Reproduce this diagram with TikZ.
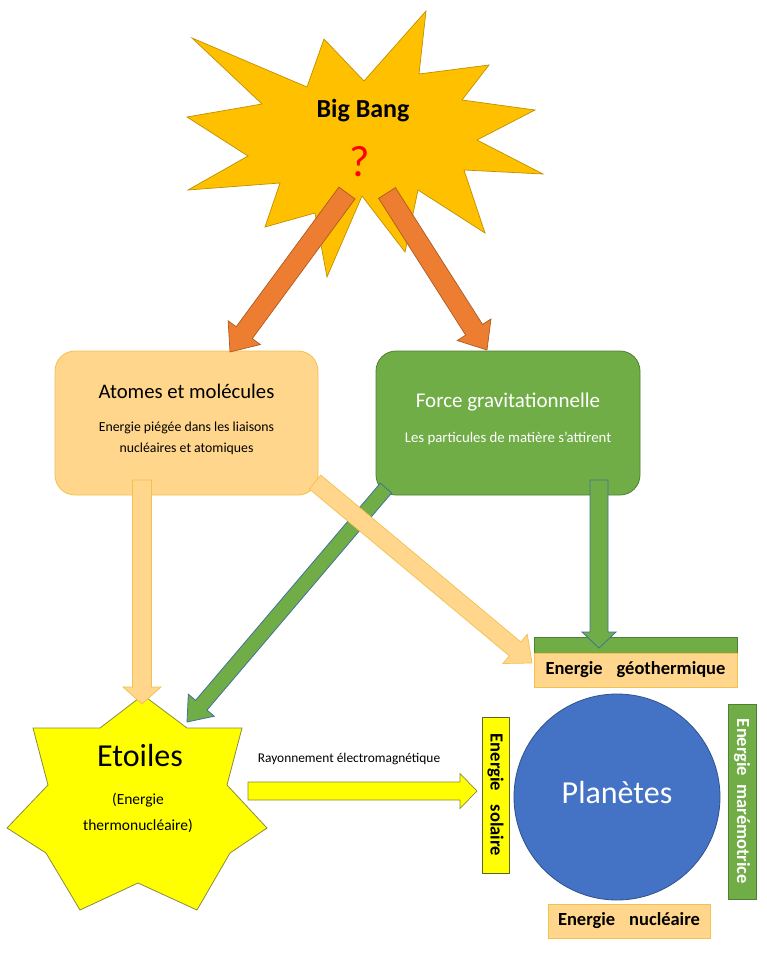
\documentclass[tikz,border=0pt]{standalone}
\usepackage{fontspec}
\setmainfont{Carlito}
\usetikzlibrary{calc}
\definecolor{bbfill}{HTML}{FFC000}
\definecolor{bbline}{HTML}{C09000}
\definecolor{orarrow}{HTML}{ED7D31}
\definecolor{orline}{HTML}{AE5A21}
\definecolor{lorange}{HTML}{FFD68C}
\definecolor{lorline}{HTML}{F2C14E}
\definecolor{grn}{HTML}{70AD47}
\definecolor{grnline}{HTML}{507E32}
\definecolor{bluline}{HTML}{41719C}
\definecolor{planet}{HTML}{4472C4}
\definecolor{planetline}{HTML}{2F528F}
\definecolor{yel}{HTML}{FFFF00}
\definecolor{yelline}{HTML}{8A8A40}
\definecolor{qred}{HTML}{FF0000}
\newcommand{\blockarrow}[6]{%
  \path let \p1=(#2), \p2=(#3) in
    \pgfextra{\pgfmathsetmacro{\baang}{atan2(\y2-\y1,\x2-\x1)}%
      \pgfmathsetmacro{\balen}{veclen(\x2-\x1,\y2-\y1)}%
      \global\let\baang\baang\global\let\balen\balen};
  \filldraw[#1, shift={(#2)}, rotate=\baang] (0,-#4) -- ({\balen-#6},-#4) -- ({\balen-#6},-#5) -- (\balen,0) -- ({\balen-#6},#5) -- ({\balen-#6},#4) -- (0,#4) -- cycle;
}
\tikzset{
  bbshape/.style={fill=bbfill, draw=bbline, line width=0.7pt},
  orarr/.style={fill=orarrow, draw=orline, line width=0.7pt},
  lorarr/.style={fill=lorange, draw=lorline, line width=0.7pt},
  grnarr/.style={fill=grn, draw=bluline, line width=0.8pt},
  yelarr/.style={fill=yel, draw=yelline, line width=0.7pt},
  roundbox/.style={rectangle, rounded corners=20pt, minimum width=264pt, minimum height=144pt, line width=0.8pt, inner sep=0pt},
  ebox/.style={rectangle, line width=0.8pt, inner sep=0pt},
  etext/.style={font=\fontsize{18.5}{21}\selectfont\bfseries},
}
\begin{document}
\begin{tikzpicture}[x=1pt, y=-1pt]
\useasboundingbox[fill=white] (0,0) rectangle (767,978);
% Big Bang explosion
\filldraw[bbshape] (192,38) -- (307,87) -- (324,39) -- (364,81) -- (426,11) -- (419,74) -- (489,65) -- (462,100) -- (535,110) -- (477,140) -- (543,174) -- (464,170) -- (485,233) -- (418,190) -- (405,252) -- (362,196) -- (327,277) -- (315,213) -- (265,227) -- (280,183) -- (188,190) -- (248,156) -- (187,117) -- (262,104) -- cycle;
\node[font=\fontsize{26}{29}\selectfont\bfseries] (bigbang) at (363,111) {Big Bang};
\node[font=\fontsize{44}{46}\selectfont, text=qred] (qmark) at (360,162) {?};
% boxes
\node[roundbox, fill=lorange, draw=lorline, minimum width=263pt] (atomes) at (186.5,423) {};
\node[roundbox, fill=grn, draw=grnline] (force) at (508,423) {};
% orange arrows
\coordinate (bbL) at (347,193);
\coordinate (bbR) at (387,193);
\coordinate (atomesIn) at (230,352);
\coordinate (forceIn) at (487,350);
\blockarrow{orarr}{bbL}{atomesIn}{10}{20}{24}
\blockarrow{orarr}{bbR}{forceIn}{10}{20}{24}
\node[font=\fontsize{20.7}{24}\selectfont] (atomesT) at (186.5,391) {Atomes et molécules};
\node[font=\fontsize{13.8}{21}\selectfont, align=center] (atomesS) at (186.5,438.5) {Energie piégée dans les liaisons\\nucléaires et atomiques};
\node[font=\fontsize{21}{24}\selectfont, text=white] (forceT) at (508,402) {Force gravitationnelle};
\node[font=\fontsize{14.8}{17}\selectfont, text=white] (forceS) at (508,438) {Les particules de matière s’attirent};
% geothermal box
\node[ebox, fill=grn, draw=grnline, minimum width=203pt, minimum height=16pt] (geostrip) at (635.5,645.5) {};
\node[ebox, fill=lorange, draw=lorline, minimum width=203pt, minimum height=34pt] (geo) at (635.5,670) {};
\node[etext] at (geo) {Energie\hspace{0.75em}géothermique};
% star
\filldraw[fill=yel, draw=yelline, line width=0.8pt] (143,695) -- (187,728) -- (242,728) -- (227,785) -- (267,828) -- (230,853) -- (197,910) -- (138,883) -- (80,910) -- (46,853) -- (7,828) -- (48,785) -- (33,728) -- (100,728) -- cycle;
\node[font=\fontsize{32}{35}\selectfont] (etoilesT) at (140,755) {Etoiles};
\node[font=\fontsize{15.5}{26}\selectfont, align=center] (etoilesS) at (138,813) {(Energie\\thermonucléaire)};
% planet
\node[circle, fill=planet, draw=planetline, line width=0.8pt, minimum size=206pt, inner sep=0pt] (planetes) at (617,797) {};
\node[font=\fontsize{32}{35}\selectfont, text=white] (planetesT) at (617,792) {Planètes};
% energy boxes
\node[ebox, fill=yel, draw=yelline!70!black, minimum width=27pt, minimum height=156pt] (solaire) at (495.5,795) {};
\node[etext, rotate=-90] at (solaire) {Energie\hspace{0.75em}solaire};
\node[ebox, fill=grn, draw=grnline, minimum width=28pt, minimum height=195pt] (maree) at (742,801.5) {};
\node[etext, rotate=-90, text=white] at (maree) {Energie\hspace{0.45em}marémotrice};
\node[ebox, fill=lorange, draw=lorline, minimum width=162pt, minimum height=34pt] (nucl) at (629,921) {};
\node[etext] at (nucl) {Energie\hspace{0.75em}nucléaire};
% lower arrows
\coordinate (forceOutL) at (386,488);
\coordinate (etoilesIn) at (187,722);
\coordinate (atomesOutR) at (315,482);
\coordinate (geoIn) at (532,663);
\coordinate (atomesOutD) at (142,480);
\coordinate (etoilesTop) at (142,704);
\coordinate (forceOutD) at (599,480);
\coordinate (geoTop) at (599,648);
\coordinate (etoilesOut) at (248,791);
\coordinate (solaireIn) at (477,791);
\blockarrow{grnarr}{forceOutL}{etoilesIn}{7.5}{17}{22}
\blockarrow{lorarr}{atomesOutR}{geoIn}{9}{19}{22}
\blockarrow{lorarr}{atomesOutD}{etoilesTop}{9.5}{19}{17}
\blockarrow{grnarr}{forceOutD}{geoTop}{9}{17}{16}
\blockarrow{yelarr}{etoilesOut}{solaireIn}{9}{17.5}{17}
\node[font=\fontsize{13.4}{16}\selectfont] (rayon) at (349,759) {Rayonnement électromagnétique};
\end{tikzpicture}
\end{document}
